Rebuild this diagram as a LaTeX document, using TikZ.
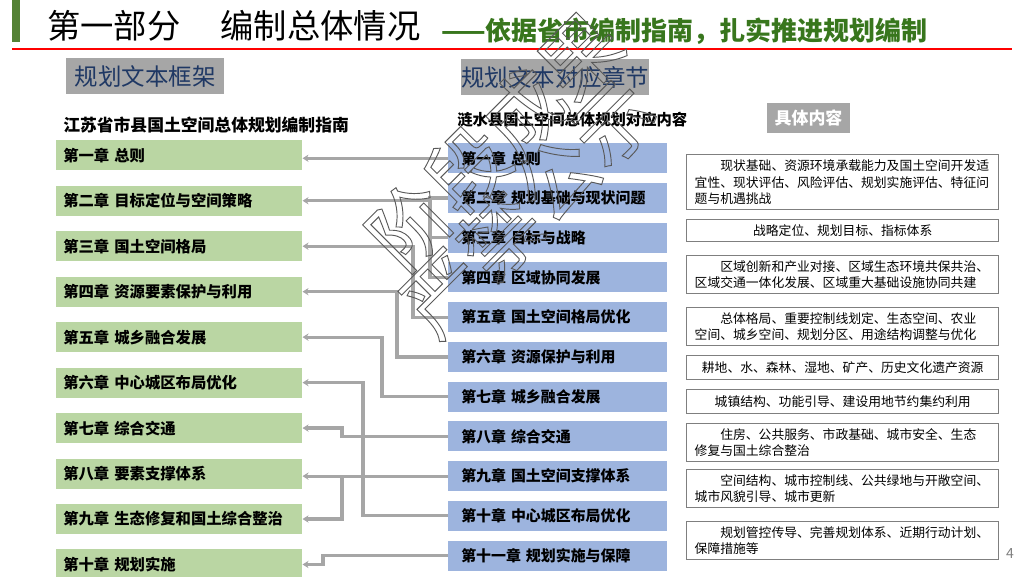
\documentclass[tikz,border=0pt]{standalone}
\usepackage{fontspec}
\setmainfont{Noto Sans CJK SC}
\usetikzlibrary{positioning,arrows.meta}

\definecolor{barGreen}{RGB}{84,130,53}
\definecolor{subGreen}{RGB}{56,118,29}
\definecolor{ruleRed}{RGB}{255,0,0}
\definecolor{headGray}{RGB}{166,166,166}
\definecolor{headNavy}{RGB}{31,56,100}
\definecolor{chapGreen}{RGB}{186,214,163}
\definecolor{chapBlue}{RGB}{157,180,222}
\definecolor{linkGray}{RGB}{166,166,166}
\definecolor{boxGray}{RGB}{127,127,127}

% hollow (outlined) letters for the watermark
\newcommand{\hollowtext}[1]{\special{pdf:literal direct 0.35 0.35 0.35 RG 0.7 w 1 Tr}#1\special{pdf:literal direct 0 Tr}}

\begin{document}
\begin{tikzpicture}[
    x=0.75pt, y=-0.75pt,
    % heading styles
    tag/.style={fill=headGray, text=headNavy, anchor=north west, minimum height=27pt, inner sep=0pt, font=\fontsize{17.6}{20}\selectfont},
    guide/.style={anchor=west, inner sep=0pt, font=\bfseries\fontsize{12.6}{15}\selectfont},
    % chapter boxes
    gchap/.style={fill=chapGreen, minimum height=22.5pt, inner xsep=5.25pt, text width=174pt, align=left, font=\bfseries\fontsize{11.5}{13}\selectfont},
    bchap/.style={fill=chapBlue, minimum height=22.5pt, inner xsep=9.75pt, text width=144.75pt, align=left, font=\bfseries\fontsize{11.2}{13}\selectfont},
    detail/.style={draw=boxGray, line width=1.1pt, anchor=north west, text width=222pt, inner xsep=6pt, inner ysep=2pt, align=left, font=\fontsize{9.6}{12.4}\selectfont},
    link/.style={draw=linkGray, line width=2.4pt, -{Stealth[length=4.5pt, width=5.5pt]}},
    branch/.style={draw=linkGray, line width=2.4pt}
  ]
  \useasboundingbox (0,0) rectangle (1024,576);

  % Title
  \fill[barGreen] (12,0) rectangle (20,42);
  \node[anchor=west, inner sep=0pt, font=\fontsize{25}{28}\selectfont] (title) at (47,26) {第一部分\hspace{1.2em}编制总体情况};
  \node[anchor=west, inner sep=0pt, text=subGreen, font=\bfseries\fontsize{19.5}{22}\selectfont] (subtitle) at (441,31) {——依据省市编制指南，扎实推进规划编制};
  \draw[ruleRed, line width=2.2pt] (12,49) -- (1012,49);

  % Headings
  \node[tag, minimum width=118.5pt] (frame) at (66,58) {规划文本框架};
  \node[tag, minimum width=138.75pt] (chapters) at (461,59) {规划文本对应章节};
  \node[guide] (guideL) at (63,125) {江苏省市县国土空间总体规划编制指南};
  \node[guide, font=\bfseries\fontsize{11.5}{14}\selectfont] (guideM) at (457,120) {涟水县国土空间总体规划对应内容};
  \node[fill=headGray, text=white, minimum width=62.25pt, minimum height=22.5pt, inner sep=0pt, font=\bfseries\fontsize{12.7}{15}\selectfont] (content) at (808.5,118) {具体内容};

  % Guide chapters
  \node[gchap, anchor=north west] (g1) at (56,140) {第一章 总则};
  \node[gchap, below=11.2pt of g1] (g2) {第二章 目标定位与空间策略};
  \node[gchap, below=11.2pt of g2] (g3) {第三章 国土空间格局};
  \node[gchap, below=11.2pt of g3] (g4) {第四章 资源要素保护与利用};
  \node[gchap, below=11.2pt of g4] (g5) {第五章 城乡融合发展};
  \node[gchap, below=11.2pt of g5] (g6) {第六章 中心城区布局优化};
  \node[gchap, below=11.2pt of g6] (g7) {第七章 综合交通};
  \node[gchap, below=11.2pt of g7] (g8) {第八章 要素支撑体系};
  \node[gchap, below=11.2pt of g8] (g9) {第九章 生态修复和国土综合整治};
  \node[gchap, below=11.2pt of g9] (g10) {第十章 规划实施};

  % County plan chapters
  \node[bchap, anchor=north west] (b1) at (448,143) {第一章 总则};
  \node[bchap, below=6.9pt of b1] (b2) {第二章 规划基础与现状问题};
  \node[bchap, below=6.9pt of b2] (b3) {第三章 目标与战略};
  \node[bchap, below=6.9pt of b3] (b4) {第四章 区域协同发展};
  \node[bchap, below=6.9pt of b4] (b5) {第五章 国土空间格局优化};
  \node[bchap, below=6.9pt of b5] (b6) {第六章 资源保护与利用};
  \node[bchap, below=6.9pt of b6] (b7) {第七章 城乡融合发展};
  \node[bchap, below=6.9pt of b7] (b8) {第八章 综合交通};
  \node[bchap, below=6.9pt of b8] (b9) {第九章 国土空间支撑体系};
  \node[bchap, below=6.9pt of b9] (b10) {第十章 中心城区布局优化};
  \node[bchap, below=6.9pt of b10] (b11) {第十一章 规划实施与保障};

  % Contents
  \node[detail, minimum height=41.25pt] (d1) at (686,154) {\hspace*{2em}现状基础、资源环境承载能力及国土空间开发适\\宜性、现状评估、风险评估、规划实施评估、特征问\\题与机遇挑战};
  \node[detail, align=center, minimum height=16.5pt] (d2) at (686,219) {战略定位、规划目标、指标体系};
  \node[detail, minimum height=28.5pt] (d3) at (686,255) {\hspace*{2em}区域创新和产业对接、区域生态环境共保共治、\\区域交通一体化发展、区域重大基础设施协同共建};
  \node[detail, minimum height=28.5pt] (d4) at (686,307) {\hspace*{2em}总体格局、重要控制线划定、生态空间、农业\\空间、城乡空间、规划分区、用途结构调整与优化};
  \node[detail, align=center, minimum height=18pt] (d5) at (686,355) {耕地、水、森林、湿地、矿产、历史文化遗产资源};
  \node[detail, align=center, minimum height=18pt] (d6) at (686,389) {城镇结构、功能引导、建设用地节约集约利用};
  \node[detail, minimum height=28.5pt] (d7) at (686,423) {\hspace*{2em}住房、公共服务、市政基础、城市安全、生态\\修复与国土综合整治};
  \node[detail, minimum height=28.5pt] (d8) at (686,469) {\hspace*{2em}空间结构、城市控制线、公共绿地与开敞空间、\\城市风貌引导、城市更新};
  \node[detail, minimum height=28.5pt] (d9) at (686,521) {\hspace*{2em}规划管控传导、完善规划体系、近期行动计划、\\保障措施等};

  % Chapter mapping
  \coordinate (busA) at (430,0);
  \coordinate (busB) at (342,0);
  \draw[link] (b1.west) -- (b1.west -| g1.east);
  \draw[link] (b2.west) -- (b2.west -| busA) |- (g2.east);
  \draw[branch] (b3.west) -- (b3.west -| busA);
  \draw[branch] (b4.west) -| (busA |- b2.west);
  \draw[link] (b5.west) -- ++(-35,0) |- (g3.east);
  \draw[link] (b6.west) -- ++(-51,0) |- (g4.east);
  \draw[link] (b7.west) -- ++(-66,0) |- (g5.east);
  \draw[link] (b10.west) -- ++(-85,0) |- (g6.east);
  \draw[link] (b8.west) -| (busB |- g7.east) -- (g7.east);
  \draw[link] (b9.west) -- (b9.west -| g8.east);
  \draw[link] (b9.west -| busB) |- (g9.east);
  \draw[link] (b11.west) -- ++(-125,0) |- (g10.east);

  % Page number and watermark
  \node[text=gray, font=\fontsize{10.5}{12}\selectfont] (pageno) at (1010,553) {4};
  \node[rotate=45, inner sep=0pt, font=\fontsize{60}{64}\selectfont] (mark1) at (495,140) {\hollowtext{阶段成果}};
  \node[rotate=45, inner sep=0pt, font=\fontsize{60}{64}\selectfont] (mark2) at (528,207) {\hollowtext{严禁公示}};
\end{tikzpicture}
\end{document}
